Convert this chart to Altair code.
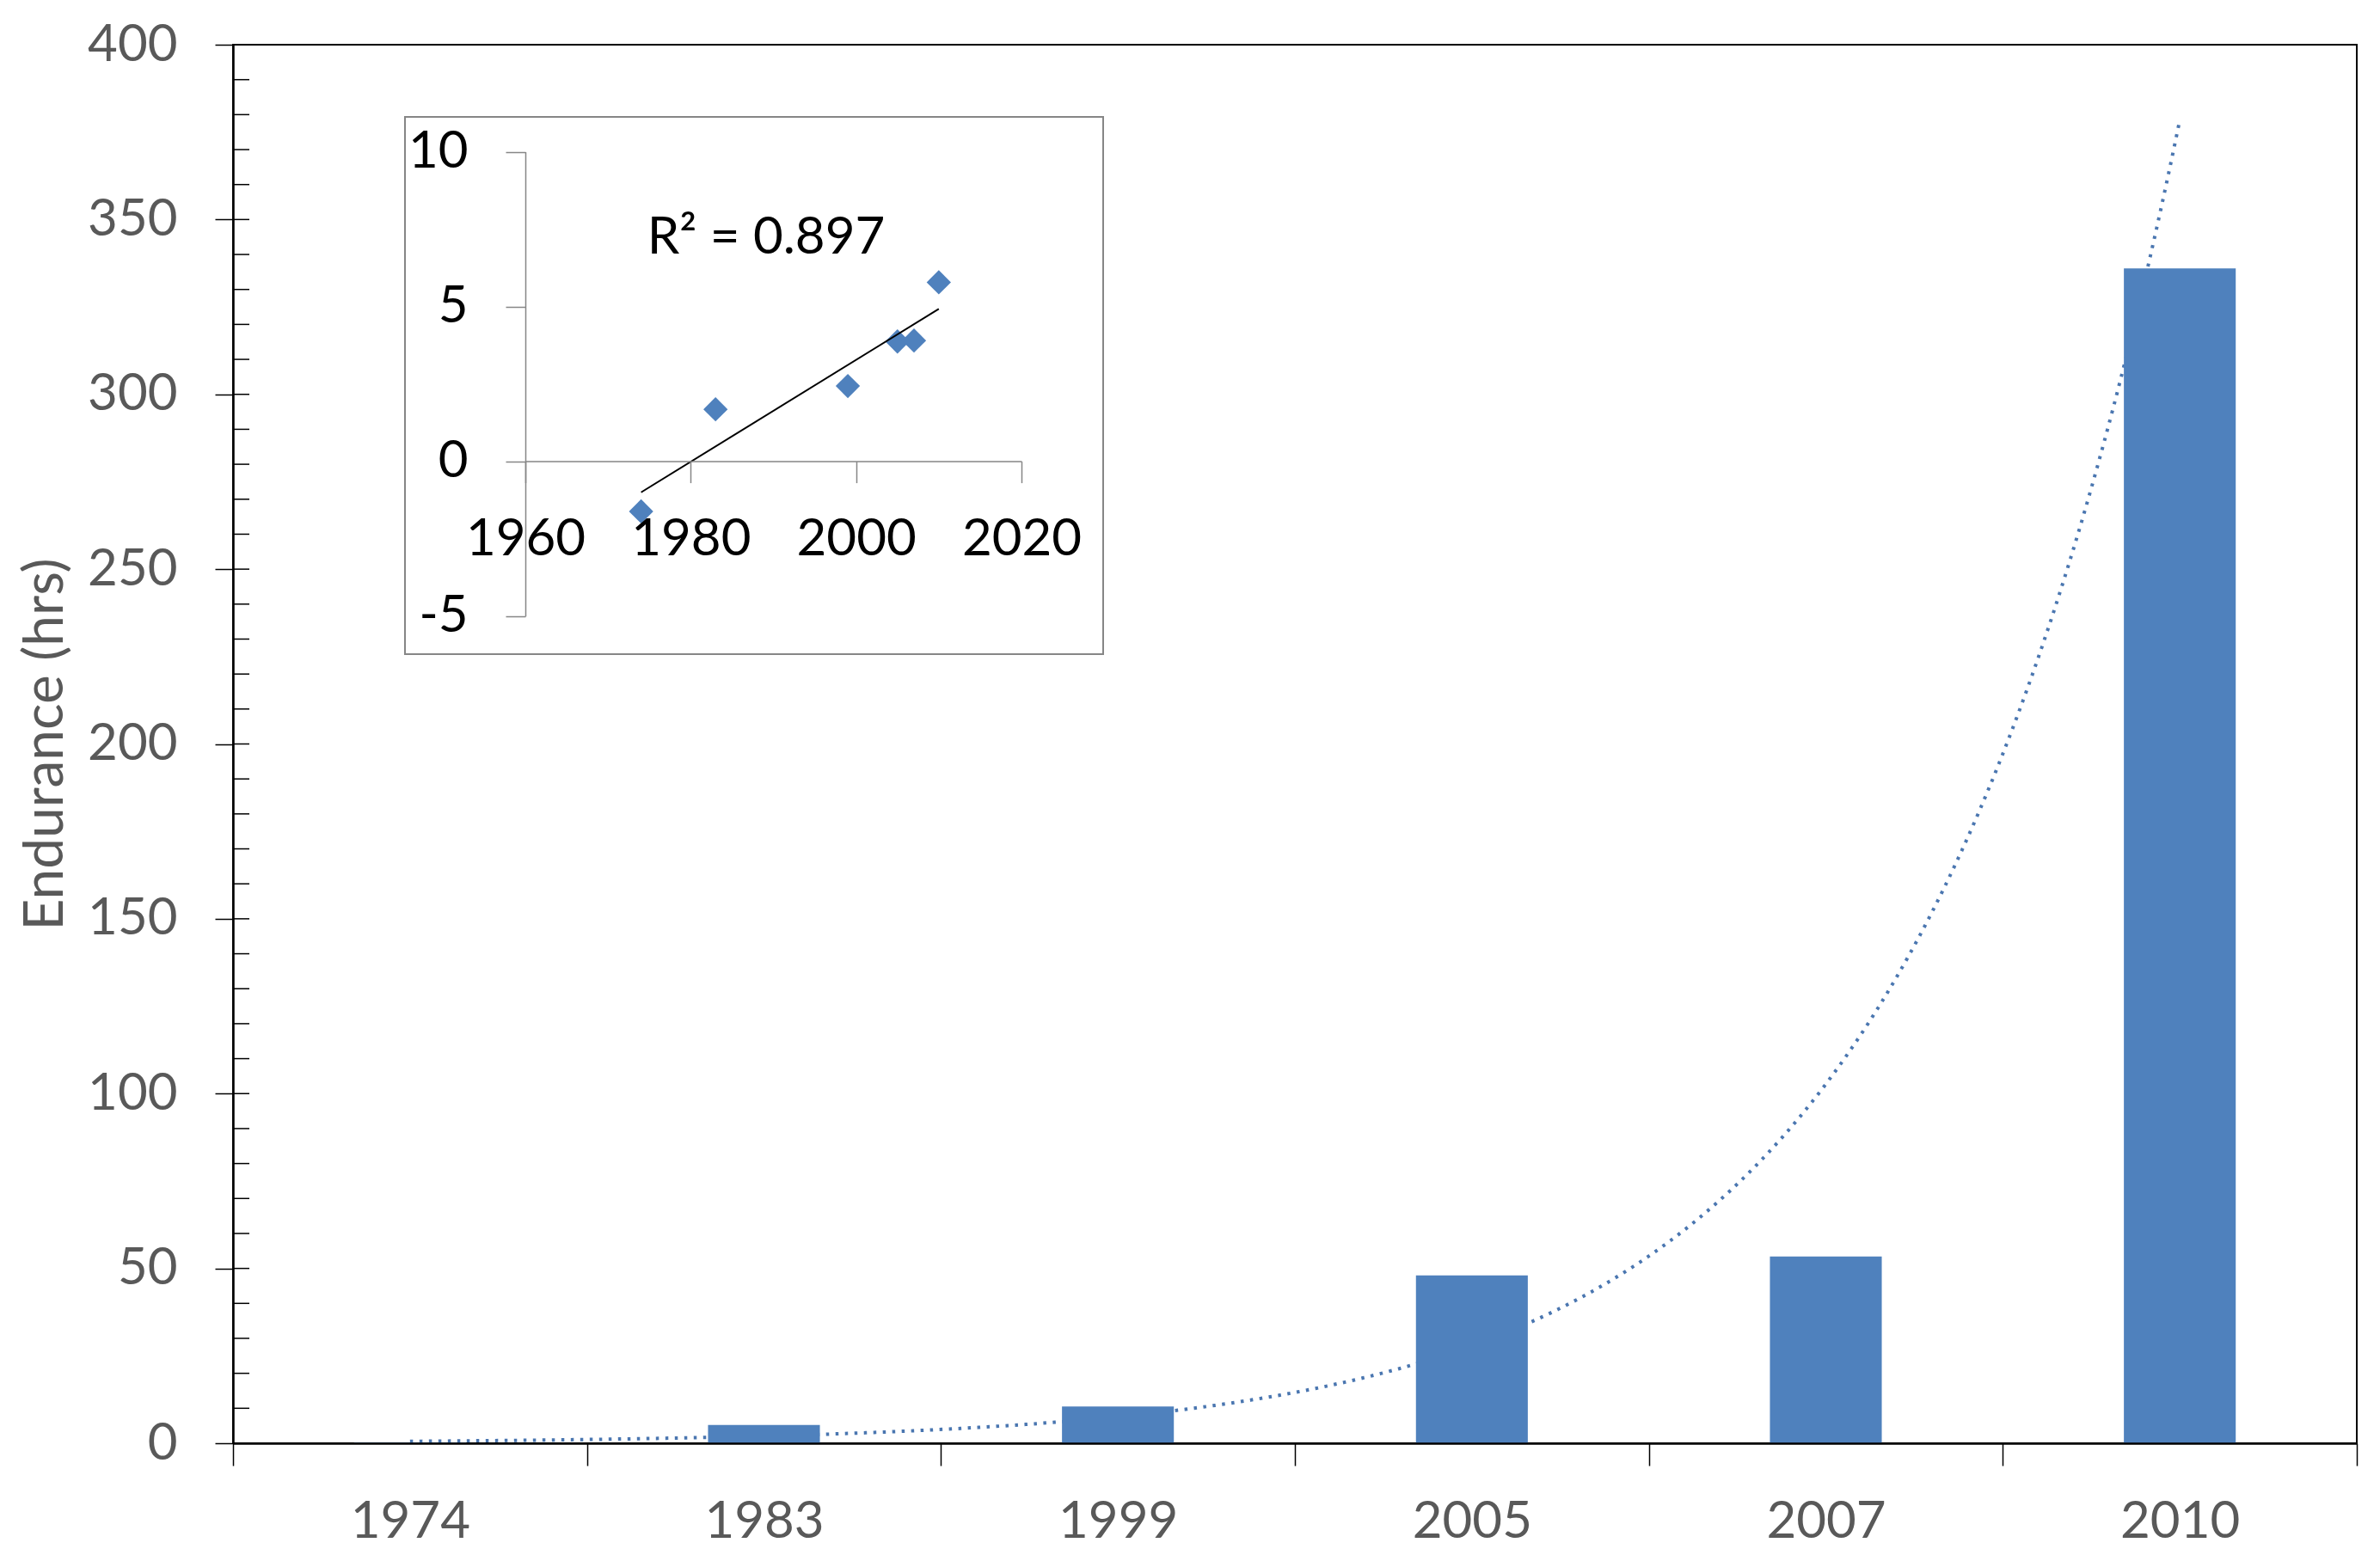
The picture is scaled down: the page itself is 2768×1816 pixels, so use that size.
import altair as alt
import numpy as np
import pandas as pd

# ---- data ----
years = ["1974", "1983", "1999", "2005", "2007", "2010"]
endurance = [0.2, 5.2, 10.5, 48, 53.4, 336]           # hrs (bars)
inset_years = [1974, 1983, 1999, 2005, 2007, 2010]
inset_ln = [-1.62, 1.68, 2.43, 3.87, 3.90, 5.78]      # inset scatter values
y_major = list(range(0, 401, 50))
y_minor = list(range(0, 401, 10))
inset_x_ticks = [1960, 1980, 2000, 2020]
inset_y_ticks = [-5, 0, 5, 10]
r2_label = "R² = 0.897"
y_title = "Endurance (hrs)"

W, H = 2470, 1627
FONT = "Lato"
BLUE = "#4F81BD"
GRAY = "#595959"
FRAME = "#868686"

bars_df = pd.DataFrame({"year": years, "endurance": endurance})

# exponential trendline (Excel style: least squares on ln values vs category index)
idx = np.arange(1, len(years) + 1)
b, a = np.polyfit(idx, np.log(endurance), 1)
xs = np.linspace(1, len(years), 300)
curve_df = pd.DataFrame({"pos": xs, "fit": np.exp(a + b * xs)})

yscale = alt.Scale(domain=[0, 400], nice=False, zero=True)

bars = alt.Chart(bars_df).mark_bar(
    color=BLUE, width=alt.RelativeBandSize(0.316)
).encode(
    x=alt.X("year:N", sort=years,
            scale=alt.Scale(paddingInner=0, paddingOuter=0),
            axis=alt.Axis(title=None, tickBand="extent", labelAngle=0,
                          labelFont=FONT, labelFontSize=60, labelColor=GRAY,
                          labelPadding=36, tickSize=26, tickColor="black",
                          tickWidth=1.5, domainColor="black", domainWidth=2.5,
                          zindex=1, grid=False)),
    y=alt.Y("endurance:Q", scale=yscale,
            axis=alt.Axis(values=y_major, title=y_title, titleFont=FONT,
                          titleFontSize=64, titleColor=GRAY, titleFontWeight="normal",
                          titleAngle=-90, titleX=-218, titleY=H / 2,
                          titleBaseline="middle", titleAlign="center",
                          labelFont=FONT, labelFontSize=60, labelColor=GRAY,
                          labelPadding=44, tickSize=21, tickColor="black",
                          tickWidth=1.5, domainColor="black", domainWidth=2.5,
                          zindex=1, grid=False)),
)

curve = alt.Chart(curve_df).mark_line(
    color="#4A76B0", strokeWidth=4, strokeDash=[3.5, 7.5]
).encode(
    x=alt.X("pos:Q", scale=alt.Scale(domain=[0.5, 6.5], nice=False, zero=False), axis=None),
    y=alt.Y("fit:Q", scale=yscale, axis=None),
)

minor = alt.Chart(pd.DataFrame({"v": y_minor})).mark_rule(
    color="black", strokeWidth=1.5
).encode(
    y=alt.Y("v:Q", scale=yscale, axis=None),
    x=alt.value(0), x2=alt.value(19),
)

frame = alt.Chart(pd.DataFrame({"a": [0]})).mark_rect(
    fill="white", stroke=FRAME, strokeWidth=2
).encode(
    x=alt.value(200), x2=alt.value(1012), y=alt.value(84), y2=alt.value(709)
)

ix = alt.Scale(domain=[1960, 2020], range=[340, 917], nice=False, zero=False)
iy = alt.Scale(domain=[-5, 10], range=[664.7, 124.5], nice=False, zero=False)

inset_df = pd.DataFrame({"yr": inset_years, "ln": inset_ln})

pts = alt.Chart(inset_df).mark_point(
    shape="diamond", filled=True, size=800, color=BLUE, opacity=1
).encode(
    x=alt.X("yr:Q", scale=ix,
            axis=alt.Axis(orient="bottom", offset=-(H - 484.6), values=inset_x_ticks,
                          labelExpr="datum.value + ''", title=None, labelFont=FONT,
                          labelFontSize=60, labelColor="black", labelPadding=37,
                          tickSize=25, tickColor=FRAME, tickWidth=1.5,
                          domainColor=FRAME, domainWidth=1.5, zindex=1, grid=False,
                          labelFlush=False, labelOverlap=False)),
    y=alt.Y("ln:Q", scale=iy,
            axis=alt.Axis(orient="left", offset=-340, values=inset_y_ticks,
                          labelExpr="datum.value + ''", title=None, labelFont=FONT,
                          labelFontSize=60, labelColor="black", labelPadding=44,
                          tickSize=23, tickColor=FRAME, tickWidth=1.5,
                          domainColor=FRAME, domainWidth=1.5, zindex=1, grid=False,
                          labelOverlap=False)),
)

reg = alt.Chart(inset_df).transform_regression("yr", "ln").mark_line(
    color="black", strokeWidth=2
).encode(
    x=alt.X("yr:Q", scale=ix, axis=None),
    y=alt.Y("ln:Q", scale=iy, axis=None),
)

r2 = alt.Chart(pd.DataFrame({"t": [r2_label]})).mark_text(
    font=FONT, fontSize=60, color="black", align="center", baseline="middle"
).encode(text="t:N", x=alt.value(620), y=alt.value(225))

chart = alt.layer(curve, bars, minor, frame, pts, reg, r2).resolve_scale(
    x="independent", y="independent"
).properties(
    width=W, height=H,
    autosize=alt.AutoSizeParams(type="none"),
    padding={"left": 263, "top": 44, "right": 19, "bottom": 129},
).configure_view(stroke="black", strokeWidth=2)

chart.save("out.html", embed_options={"renderer": "svg", "actions": False})
